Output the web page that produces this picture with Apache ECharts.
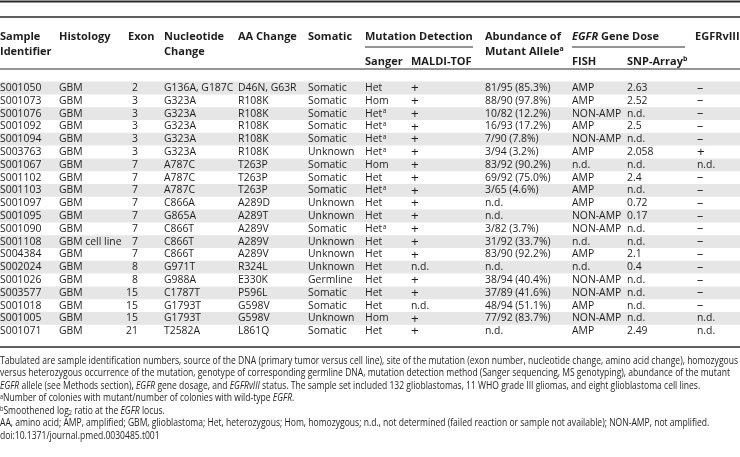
<!DOCTYPE html>
<html>
<head>
<meta charset="utf-8">
<script src="https://cdn.jsdelivr.net/npm/echarts@6/dist/echarts.min.js"></script>
<style>
html,body{margin:0;padding:0;background:#fff;}
#chart{width:740px;height:457px;}
</style>
</head>
<body>
<div id="chart"></div>
<script>
// ---- data ----
const sampleIds = ["S001050","S001073","S001076","S001092","S001094","S003763","S001067","S001102","S001103","S001097","S001095","S001090","S001108","S004384","S002024","S001026","S003577","S001018","S001005","S001071"];
const histology = ["GBM","GBM","GBM","GBM","GBM","GBM","GBM","GBM","GBM","GBM","GBM","GBM","GBM cell line","GBM","GBM","GBM","GBM","GBM","GBM","GBM"];
const exons = ["2","3","3","3","3","3","7","7","7","7","7","7","7","7","8","8","15","15","15","21"];
const nucleotide = ["G136A, G187C","G323A","G323A","G323A","G323A","G323A","A787C","A787C","A787C","C866A","G865A","C866T","C866T","C866T","G971T","G988A","C1787T","G1793T","G1793T","T2582A"];
const aaChange = ["D46N, G63R","R108K","R108K","R108K","R108K","R108K","T263P","T263P","T263P","A289D","A289T","A289V","A289V","A289V","R324L","E330K","P596L","G598V","G598V","L861Q"];
const somatic = ["Somatic","Somatic","Somatic","Somatic","Somatic","Unknown","Somatic","Somatic","Somatic","Unknown","Unknown","Somatic","Unknown","Unknown","Unknown","Germline","Somatic","Somatic","Unknown","Somatic"];
const sanger = ["Het","Hom","Het","Het","Het","Het","Hom","Het","Het","Het","Het","Het","Het","Het","Het","Het","Het","Het","Hom","Het"];
const sangerNote = ["","","a","a","a","a","","","a","","","a","","","","","","","",""];
const maldi = ["+","+","+","+","+","+","+","+","+","+","+","+","+","+","n.d.","+","+","n.d.","+","+"];
const abundance = ["81/95 (85.3%)","88/90 (97.8%)","10/82 (12.2%)","16/93 (17.2%)","7/90 (7.8%)","3/94 (3.2%)","83/92 (90.2%)","69/92 (75.0%)","3/65 (4.6%)","n.d.","n.d.","3/82 (3.7%)","31/92 (33.7%)","83/90 (92.2%)","n.d.","38/94 (40.4%)","37/89 (41.6%)","48/94 (51.1%)","77/92 (83.7%)","n.d."];
const fish = ["AMP","AMP","NON-AMP","AMP","NON-AMP","AMP","n.d.","AMP","AMP","AMP","NON-AMP","NON-AMP","n.d.","AMP","n.d.","NON-AMP","NON-AMP","AMP","NON-AMP","AMP"];
const snpArray = ["2.63","2.52","n.d.","2.5","n.d.","2.058","n.d.","2.4","n.d.","0.72","0.17","n.d.","n.d.","2.1","0.4","n.d.","n.d.","n.d.","n.d.","2.49"];
const egfrviii = ["\u2013","\u2013","\u2013","\u2013","\u2013","+","n.d.","\u2013","\u2013","\u2013","\u2013","\u2013","\u2013","\u2013","\u2013","\u2013","\u2013","\u2013","n.d.","n.d."];

const footnotes = [
  "Tabulated are sample identification numbers, source of the DNA (primary tumor versus cell line), site of the mutation (exon number, nucleotide change, amino acid change), homozygous",
  "versus heterozygous occurrence of the mutation, genotype of corresponding germline DNA, mutation detection method (Sanger sequencing, MS genotyping), abundance of the mutant",
  "{i|EGFR} allele (see Methods section), {i|EGFR} gene dosage, and {i|EGFRvIII} status. The sample set included 132 glioblastomas, 11 WHO grade III gliomas, and eight glioblastoma cell lines.",
  "{sup|a}Number of colonies with mutant/number of colonies with wild-type {i|EGFR}.",
  "{sup|b}Smoothened log{sub|2} ratio at the {i|EGFR} locus.",
  "AA, amino acid; AMP, amplified; GBM, glioblastoma; Het, heterozygous; Hom, homozygous; n.d., not determined (failed reaction or sample not available); NON-AMP, not amplified.",
  "doi:10.1371/journal.pmed.0030485.t001"
];

// ---- layout / style ----
const FONT = "'Open Sans', 'DejaVu Sans', sans-serif";
const TXT = '#1e1e1e';
const SHADE = '#e6e6e6';
const W = 740;
const ROW_TOP = 81.6, ROW_H = 12.8;
const BODY_PX = 10.4;
const colX = {id:0, hist:59, exonRight:138, nuc:164, aa:238, som:308, sanger:365, maldi:411, abund:485, fish:572, snp:627, v3:697};

const chart = echarts.init(document.getElementById('chart'), null, {renderer:'canvas'});

function bodyText(x, y, text, align, px) {
  return {
    type:'text', x:x, y:y,
    style:{text:text, fill:TXT, font:(px || BODY_PX) + 'px ' + FONT, align:align||'left', verticalAlign:'middle'},
    silent:true
  };
}
function symText(x, y, text) {
  // plus / dash marks drawn a little larger and lighter, as in the reference
  if (text === '+') return bodyText(x, y + 0.3, text, 'left', 13.5);
  if (text === '\u2013') return bodyText(x, y, text, 'left', 12.5);
  return bodyText(x, y, text);
}

function renderRow(params, api) {
  const i = api.value(1);
  const c = api.coord([0, i]);
  const h = api.size([0, 1])[1];
  const y = c[1];
  const X = v => api.coord([v, i])[0];
  const kids = [];
  if (i % 2 === 0) {
    kids.push({type:'rect', shape:{x:X(0), y:y - h/2, width:X(W) - X(0), height:h}, style:{fill:SHADE}, silent:true});
  }
  kids.push(bodyText(X(colX.id), y, sampleIds[i]));
  kids.push(bodyText(X(colX.hist), y, histology[i]));
  kids.push(bodyText(X(colX.exonRight), y, exons[i], 'right'));
  kids.push(bodyText(X(colX.nuc), y, nucleotide[i]));
  kids.push(bodyText(X(colX.aa), y, aaChange[i]));
  kids.push(bodyText(X(colX.som), y, somatic[i]));
  const sg = '{n|' + sanger[i] + '}' + (sangerNote[i] ? '{sup|' + sangerNote[i] + '}' : '');
  kids.push({type:'text', x:X(colX.sanger), y:y - 6.5,
    style:{text:sg, align:'left', verticalAlign:'top',
      rich:{n:{font:BODY_PX + 'px ' + FONT, fill:TXT, lineHeight:13, verticalAlign:'middle'},
            sup:{font:'6.5px ' + FONT, fill:TXT, lineHeight:13, verticalAlign:'top', padding:[1,0,0,0.5]}}}, silent:true});
  kids.push(symText(X(colX.maldi), y, maldi[i]));
  kids.push(bodyText(X(colX.abund), y, abundance[i]));
  kids.push(bodyText(X(colX.fish), y, fish[i]));
  kids.push(bodyText(X(colX.snp), y, snpArray[i]));
  kids.push(symText(X(colX.v3), y, egfrviii[i]));
  return {type:'group', children:kids};
}

// header text helper
const HB = 'bold 11px ' + FONT;
const headRich = {
  b:{font:HB, fill:TXT, lineHeight:15},
  bi:{font:'italic bold 11px ' + FONT, fill:TXT, lineHeight:15},
  sup:{font:'bold 7px ' + FONT, fill:TXT, lineHeight:15, verticalAlign:'top', padding:[1,0,0,0]}
};
function head(x, yTop, text) {
  return {type:'text', x:x, y:yTop, silent:true,
    style:{text:text, align:'left', verticalAlign:'top', rich:headRich}};
}
function hline(x1, x2, y, w, color) {
  return {type:'line', silent:true, shape:{x1:x1, y1:y, x2:x2, y2:y}, style:{stroke:color||'#2a2a2a', lineWidth:w}};
}

// footnote scale: condense to fit the first line into full width
const FN_FONT_PX = 10;
const mctx = document.createElement('canvas').getContext('2d');
mctx.font = FN_FONT_PX + 'px ' + FONT;
const fnScale = 738 / mctx.measureText(footnotes[0]).width;
const fnRich = {
  n:{font:FN_FONT_PX + 'px ' + FONT, fill:TXT, lineHeight:12},
  i:{font:'italic ' + FN_FONT_PX + 'px ' + FONT, fill:TXT, lineHeight:12},
  sup:{font:'6.5px ' + FONT, fill:TXT, lineHeight:12, verticalAlign:'top', padding:[1,0,0,0]},
  sub:{font:'6.5px ' + FONT, fill:TXT, lineHeight:12, verticalAlign:'bottom'}
};
function toRich(s) {
  const parts = [];
  const re = /\{(\w+)\|([^}]*)\}/g;
  let last = 0, m;
  while ((m = re.exec(s))) {
    if (m.index > last) parts.push('{n|' + s.slice(last, m.index) + '}');
    parts.push(m[0]);
    last = re.lastIndex;
  }
  if (last < s.length) parts.push('{n|' + s.slice(last) + '}');
  return parts.join('');
}
const FN_Y0 = 355, FN_STEP = 12.5;
const fnGraphics = footnotes.map((t, k) => ({
  type:'text', x:0, y:FN_Y0 + k*FN_STEP, scaleX:fnScale, silent:true,
  style:{text:toRich(t), align:'left', verticalAlign:'top', rich:fnRich}
}));

const graphics = [
  hline(0, W, 1.5, 2),
  hline(0, W, 17, 1.6),
  head(colX.id, 29.5, '{b|Sample}\n{b|Identifier}'),
  head(colX.hist, 29.5, '{b|Histology}'),
  head(128, 29.5, '{b|Exon}'),
  head(colX.nuc, 29.5, '{b|Nucleotide}\n{b|Change}'),
  head(colX.aa, 29.5, '{b|AA Change}'),
  head(colX.som, 29.5, '{b|Somatic}'),
  head(colX.sanger, 29.5, '{b|Mutation Detection}'),
  hline(365, 473, 47, 1),
  head(colX.sanger, 54.5, '{b|Sanger}'),
  head(411, 54.5, '{b|MALDI-TOF}'),
  head(colX.abund, 29.5, '{b|Abundance of}\n{b|Mutant Allele}{sup|a}'),
  head(colX.fish, 29.5, '{bi|EGFR}{b| Gene Dose}'),
  hline(572, 685, 47, 1),
  head(colX.fish, 54.5, '{b|FISH}'),
  head(colX.snp, 54.5, '{b|SNP-Array}{sup|b}'),
  head(695, 29.5, '{b|EGFRvIII}'),
  hline(0, W, 69, 1.2),
  hline(0, W, 347, 1.6)
].concat(fnGraphics);

chart.setOption({
  animation:false,
  backgroundColor:'#fff',
  grid:{left:0, right:0, top:ROW_TOP, height:ROW_H * sampleIds.length, containLabel:false},
  xAxis:{type:'value', min:0, max:W, show:false},
  yAxis:{type:'category', data:sampleIds, inverse:true, show:false},
  graphic:{elements:graphics},
  series:[{
    type:'custom',
    renderItem:renderRow,
    data:sampleIds.map((id, i) => [0, i]),
    encode:{x:0, y:1},
    clip:false,
    silent:true
  }]
});
</script>
</body>
</html>
